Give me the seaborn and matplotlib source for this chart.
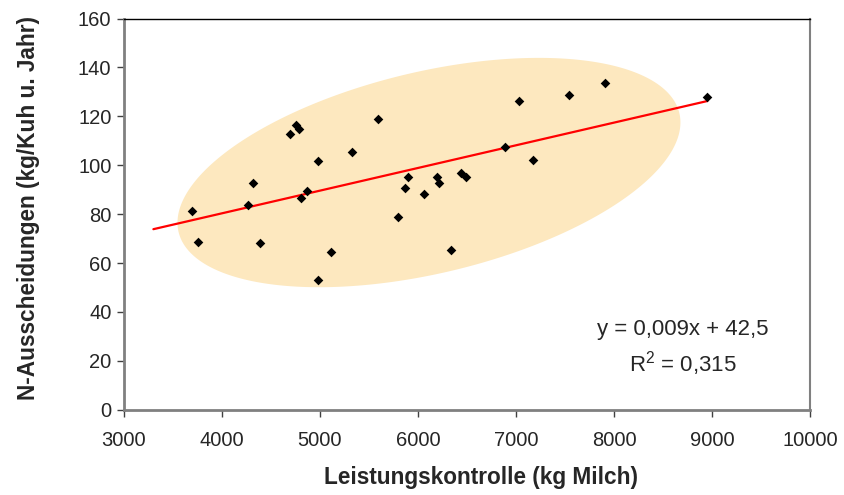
import numpy as np
import pandas as pd
import matplotlib
matplotlib.use("Agg")
import matplotlib.pyplot as plt
import seaborn as sns

# Werte
milch = [3691, 3758, 4269, 4320, 4391, 4691, 4752, 4789, 4803, 4864,
         4976, 4983, 5109, 5330, 5588, 5799, 5870, 5901, 6061, 6190,
         6211, 6334, 6435, 6490, 6888, 7027, 7173, 7541, 7908, 8952]
n_aus = [81.3, 68.7, 83.8, 92.6, 68.1, 112.9, 116.5, 115.0, 86.5, 89.6,
         52.9, 101.9, 64.4, 105.4, 119.1, 78.8, 90.6, 95.3, 88.4, 95.3,
         92.9, 65.3, 96.8, 95.2, 107.6, 126.2, 102.2, 128.8, 133.7, 127.8]
trend_start = 3300

# Ellipse (Hintergrund)
ell_center = (6112, 97.0)
ell_half_x = 2566
ell_half_y = 46.9
ell_rho = 0.437

df = pd.DataFrame({"milch": milch, "n": n_aus})

sns.set_style("white")
plt.rcParams["font.family"] = ["Liberation Sans", "DejaVu Sans"]
plt.rcParams["mathtext.fontset"] = "custom"
plt.rcParams["mathtext.rm"] = "Liberation Sans"
plt.rcParams["mathtext.it"] = "Liberation Sans"

fig = plt.figure(figsize=(8.44, 4.95), dpi=100)
ax = fig.add_axes([0.1469, 0.1723, 0.8128, 0.7903])

t = np.linspace(0, 2 * np.pi, 400)
ex = ell_center[0] + ell_half_x * np.cos(t)
ey = ell_center[1] + ell_half_y * (ell_rho * np.cos(t) + np.sqrt(1 - ell_rho ** 2) * np.sin(t))
ax.fill(ex, ey, color="#FDE8BF", lw=0, zorder=0)

slope, intercept = np.polyfit(df["milch"], df["n"], 1)
tx = np.array([trend_start, max(milch)])
ax.plot(tx, slope * tx + intercept, color="#FF0000", lw=1.6, zorder=2)

sns.scatterplot(data=df, x="milch", y="n", marker="D", s=24, color="black",
                edgecolor="black", linewidth=0, ax=ax, zorder=3)

ax.set_xlim(3000, 10000)
ax.set_ylim(0, 160)
ax.set_xticks(range(3000, 10001, 1000))
ax.set_yticks(range(0, 161, 20))
ax.tick_params(axis="both", direction="out", length=5, width=1, labelsize=14.5,
               color="#404040", bottom=True, left=True, pad=4)
ax.tick_params(axis="x", pad=10)

for side in ["left", "bottom"]:
    ax.spines[side].set_color("#808080")
    ax.spines[side].set_linewidth(2)
ax.spines["top"].set_color("black")
ax.spines["top"].set_linewidth(1)
ax.spines["right"].set_color("#808080")
ax.spines["right"].set_linewidth(1.5)

ax.set_xlabel("Leistungskontrolle (kg Milch)", fontsize=16.3, fontweight="bold", labelpad=12)
ax.xaxis.label.set_x(0.52)
ax.set_ylabel("N-Ausscheidungen (kg/Kuh u. Jahr)", fontsize=16.3, fontweight="bold", labelpad=27)
ax.yaxis.label.set_y(0.515)

ax.text(0.815, 0.204, "y = 0,009x + 42,5", transform=ax.transAxes,
        ha="center", va="center", fontsize=16)
ax.text(0.815, 0.119, r"R$^2$ = 0,315", transform=ax.transAxes,
        ha="center", va="center", fontsize=16)

fig.savefig("out.png", dpi=100)
